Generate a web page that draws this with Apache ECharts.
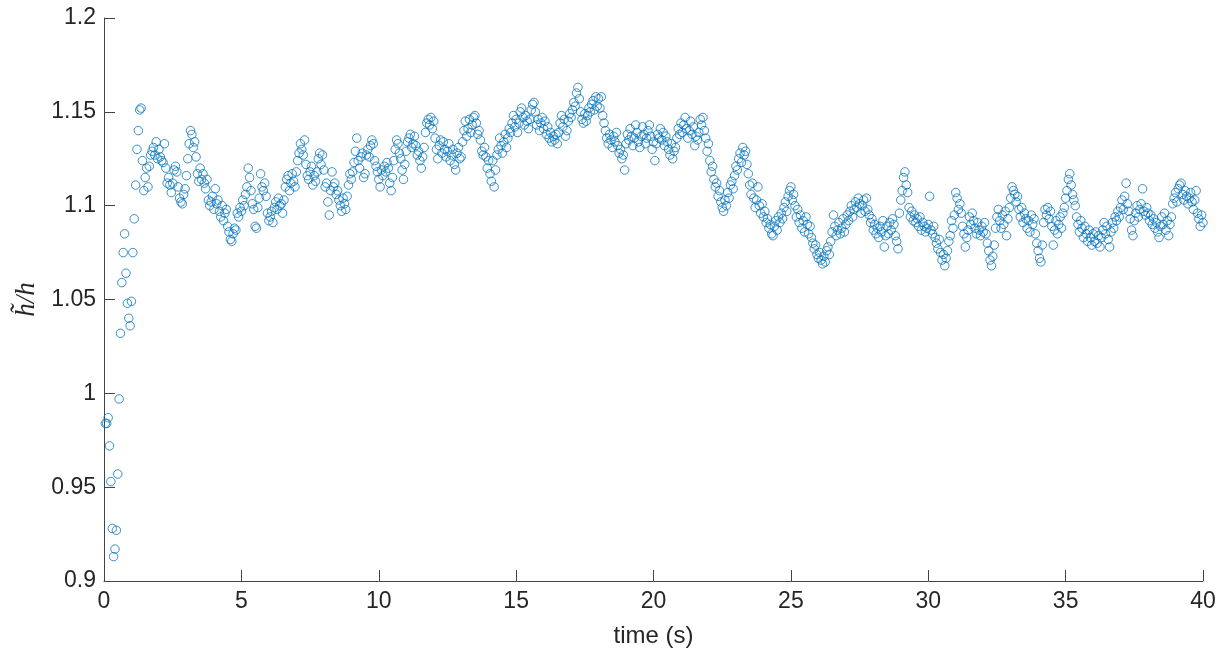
<!DOCTYPE html>
<html>
<head>
<meta charset="utf-8">
<script src="https://cdn.jsdelivr.net/npm/echarts@6/dist/echarts.min.js"></script>
<style>
html,body{margin:0;padding:0;background:#fff;}
#chart{width:1226px;height:655px;}
</style>
</head>
<body>
<div id="chart"></div>
<script>
// sampling step of the record (s); sample k is at time (k+1)*sampleStep
const sampleStep = 0.05;
const xTicks = [0, 5, 10, 15, 20, 25, 30, 35, 40];
const yTicks = ['0.9', '0.95', '1', '1.05', '1.1', '1.15', '1.2'];

// h~/h values, 20 samples per second
const ratio_00_05 = [
0.984,0.984,0.987,0.972,0.953,0.928,0.913,0.917,0.927,0.957,0.997,1.032,1.059,1.075,1.085,1.064,1.048,1.040,1.036,1.049,
1.075,1.093,1.111,1.130,1.140,1.151,1.152,1.124,1.108,1.115,1.120,1.110,1.121,1.127,1.129,1.131,1.127,1.134,1.125,1.130,
1.126,1.124,1.123,1.133,1.120,1.112,1.115,1.111,1.107,1.112,1.119,1.121,1.118,1.110,1.104,1.102,1.101,1.106,1.109,1.116,
1.125,1.133,1.140,1.138,1.131,1.134,1.126,1.117,1.113,1.120,1.114,1.117,1.112,1.109,1.114,1.103,1.100,1.102,1.105,1.098,
1.109,1.101,1.103,1.097,1.094,1.100,1.092,1.096,1.098,1.089,1.086,1.082,1.081,1.085,1.088,1.087,1.096,1.094,1.099,1.097];
const ratio_05_10 = [
1.103,1.100,1.106,1.110,1.120,1.115,1.108,1.101,1.098,1.089,1.088,1.099,1.104,1.117,1.110,1.108,1.112,1.105,1.096,1.092,
1.094,1.097,1.091,1.099,1.102,1.098,1.104,1.100,1.101,1.096,1.103,1.110,1.114,1.116,1.108,1.112,1.117,1.113,1.110,1.118,
1.124,1.128,1.133,1.130,1.127,1.135,1.122,1.116,1.114,1.118,1.121,1.111,1.116,1.113,1.118,1.125,1.128,1.122,1.127,1.119,
1.110,1.112,1.102,1.095,1.108,1.118,1.110,1.112,1.106,1.108,1.103,1.100,1.097,1.104,1.101,1.098,1.105,1.111,1.117,1.114,
1.118,1.123,1.129,1.136,1.124,1.120,1.126,1.128,1.115,1.117,1.127,1.130,1.126,1.132,1.135,1.133,1.124,1.121,1.118,1.114];
const ratio_10_15 = [
1.110,1.119,1.116,1.121,1.118,1.123,1.120,1.112,1.108,1.115,1.124,1.130,1.135,1.133,1.128,1.125,1.119,1.114,1.122,1.129,
1.134,1.136,1.138,1.131,1.133,1.137,1.132,1.127,1.129,1.124,1.120,1.126,1.131,1.139,1.144,1.146,1.143,1.147,1.141,1.145,
1.136,1.130,1.125,1.132,1.135,1.128,1.134,1.130,1.126,1.129,1.133,1.124,1.127,1.130,1.122,1.119,1.128,1.131,1.125,1.126,
1.134,1.140,1.145,1.137,1.141,1.146,1.139,1.143,1.147,1.148,1.144,1.138,1.140,1.135,1.129,1.127,1.131,1.126,1.120,1.124,
1.117,1.113,1.124,1.110,1.119,1.127,1.130,1.136,1.132,1.128,1.134,1.138,1.131,1.136,1.141,1.139,1.144,1.148,1.142,1.146];
const ratio_15_20 = [
1.139,1.144,1.150,1.152,1.147,1.143,1.148,1.145,1.141,1.146,1.151,1.154,1.155,1.150,1.143,1.146,1.140,1.144,1.147,1.141,
1.145,1.138,1.142,1.136,1.139,1.134,1.137,1.135,1.138,1.133,1.139,1.144,1.148,1.142,1.146,1.137,1.140,1.145,1.149,1.147,
1.151,1.155,1.153,1.160,1.163,1.157,1.150,1.146,1.144,1.149,1.145,1.148,1.152,1.150,1.154,1.156,1.151,1.158,1.153,1.157,
1.152,1.158,1.148,1.144,1.140,1.136,1.133,1.138,1.135,1.131,1.137,1.134,1.139,1.132,1.128,1.130,1.125,1.127,1.119,1.133,
1.138,1.135,1.141,1.137,1.132,1.136,1.143,1.139,1.134,1.131,1.137,1.142,1.138,1.133,1.136,1.140,1.143,1.137,1.130,1.134];
const ratio_20_25 = [
1.124,1.133,1.138,1.136,1.141,1.135,1.139,1.132,1.137,1.134,1.130,1.127,1.133,1.125,1.129,1.131,1.136,1.141,1.138,1.144,
1.139,1.143,1.147,1.141,1.136,1.140,1.145,1.138,1.142,1.132,1.137,1.135,1.139,1.146,1.143,1.147,1.140,1.136,1.129,1.133,
1.124,1.118,1.121,1.114,1.110,1.112,1.105,1.108,1.102,1.099,1.097,1.103,1.100,1.107,1.104,1.111,1.113,1.109,1.116,1.121,
1.119,1.125,1.128,1.123,1.131,1.127,1.129,1.122,1.117,1.111,1.106,1.112,1.104,1.099,1.103,1.110,1.100,1.096,1.101,1.094,
1.097,1.091,1.093,1.088,1.090,1.085,1.084,1.089,1.092,1.087,1.094,1.091,1.096,1.093,1.099,1.102,1.097,1.105,1.108,1.110];
const ratio_25_30 = [
1.103,1.106,1.100,1.094,1.098,1.091,1.095,1.088,1.092,1.086,1.094,1.090,1.085,1.089,1.083,1.080,1.077,1.079,1.074,1.072,
1.075,1.071,1.069,1.073,1.070,1.076,1.078,1.074,1.081,1.086,1.095,1.089,1.084,1.087,1.091,1.085,1.088,1.093,1.086,1.090,
1.095,1.092,1.097,1.100,1.094,1.098,1.102,1.099,1.104,1.101,1.096,1.100,1.103,1.097,1.104,1.098,1.095,1.091,1.093,1.087,
1.090,1.085,1.088,1.083,1.089,1.086,1.092,1.078,1.084,1.089,1.085,1.091,1.087,1.093,1.090,1.084,1.081,1.077,1.096,1.103,
1.108,1.115,1.118,1.111,1.107,1.099,1.094,1.097,1.092,1.095,1.091,1.093,1.089,1.094,1.087,1.091,1.089,1.086,1.088,1.090];
const ratio_30_35 = [
1.105,1.087,1.085,1.089,1.083,1.080,1.077,1.082,1.075,1.071,1.074,1.068,1.072,1.076,1.081,1.084,1.092,1.088,1.095,1.107,
1.104,1.098,1.101,1.096,1.089,1.085,1.078,1.083,1.087,1.094,1.090,1.096,1.092,1.088,1.085,1.091,1.087,1.084,1.089,1.086,
1.091,1.085,1.080,1.076,1.071,1.068,1.073,1.079,1.088,1.094,1.098,1.092,1.088,1.095,1.090,1.097,1.084,1.093,1.099,1.104,
1.110,1.108,1.106,1.102,1.105,1.098,1.094,1.099,1.091,1.096,1.093,1.088,1.092,1.086,1.095,1.090,1.093,1.085,1.080,1.076,
1.072,1.070,1.079,1.091,1.098,1.095,1.099,1.093,1.097,1.089,1.079,1.087,1.092,1.085,1.090,1.094,1.088,1.096,1.099,1.104];
const ratio_35_40 = [
1.108,1.114,1.117,1.111,1.106,1.103,1.100,1.094,1.090,1.086,1.092,1.088,1.083,1.089,1.085,1.081,1.087,1.083,1.079,1.085,
1.081,1.086,1.080,1.084,1.078,1.083,1.087,1.091,1.085,1.089,1.082,1.078,1.086,1.091,1.088,1.094,1.092,1.097,1.094,1.099,
1.103,1.098,1.105,1.112,1.101,1.097,1.093,1.087,1.084,1.092,1.096,1.100,1.094,1.098,1.101,1.109,1.097,1.095,1.099,1.096,
1.092,1.095,1.090,1.093,1.088,1.091,1.086,1.083,1.089,1.094,1.090,1.096,1.087,1.092,1.084,1.090,1.094,1.101,1.104,1.107,
1.102,1.109,1.111,1.112,1.106,1.103,1.108,1.105,1.101,1.104,1.107,1.102,1.098,1.103,1.108,1.096,1.093,1.089,1.095,1.091];

const allRatio = [].concat(ratio_00_05, ratio_05_10, ratio_10_15, ratio_15_20,
                           ratio_20_25, ratio_25_30, ratio_30_35, ratio_35_40);
const points = allRatio.map((v, k) => [+(((k + 1) * sampleStep).toFixed(2)), v]);

const chart = echarts.init(document.getElementById('chart'), null, {renderer: 'canvas'});
const axisColor = '#262626';
const labelFont = 'Liberation Sans, Arial, sans-serif';
chart.setOption({
  animation: false,
  backgroundColor: '#ffffff',
  grid: {left: 104, right: 23, top: 18, bottom: 74, containLabel: false},
  xAxis: {
    type: 'value', min: xTicks[0], max: xTicks[xTicks.length - 1], interval: 5,
    name: 'time (s)', nameLocation: 'middle', nameGap: 43,
    nameTextStyle: {color: axisColor, fontSize: 24, fontFamily: labelFont},
    axisLine: {show: true, onZero: false, lineStyle: {color: '#444', width: 1}},
    axisTick: {show: true, inside: true, length: 11, lineStyle: {color: '#444', width: 1}},
    axisLabel: {color: axisColor, fontSize: 23, margin: 9, fontFamily: labelFont},
    splitLine: {show: false}
  },
  yAxis: {
    type: 'value', min: +yTicks[0], max: +yTicks[yTicks.length - 1], interval: 0.05,
    name: 'h\u0303/h', nameLocation: 'middle', nameGap: 63, nameRotate: 90,
    nameTextStyle: {color: axisColor, fontSize: 27, fontStyle: 'italic', fontFamily: 'Liberation Serif, serif'},
    axisLine: {show: true, onZero: false, lineStyle: {color: '#444', width: 1}},
    axisTick: {show: true, inside: true, length: 11, lineStyle: {color: '#444', width: 1}},
    axisLabel: {color: axisColor, fontSize: 23, margin: 8, fontFamily: labelFont,
      formatter: v => yTicks.find(s => Math.abs(+s - v) < 1e-6) || ''},
    splitLine: {show: false}
  },
  series: [{
    type: 'scatter',
    data: points,
    symbol: 'circle',
    symbolSize: 8.5,
    large: false,
    itemStyle: {color: 'rgba(0,0,0,0)', borderColor: '#0072BD', borderWidth: 1, opacity: 0.78},
    emphasis: {disabled: true}
  }]
});
</script>
</body>
</html>
